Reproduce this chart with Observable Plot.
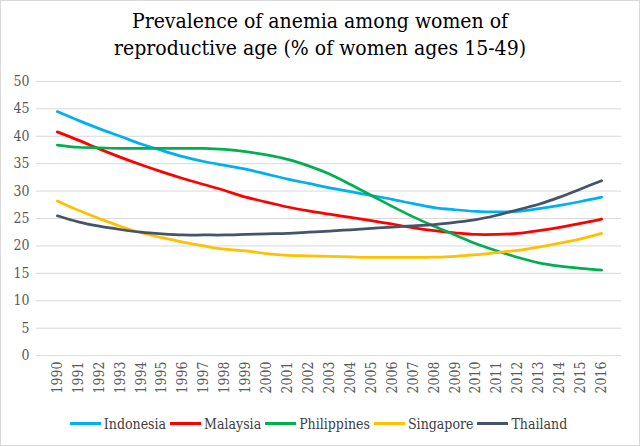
<!DOCTYPE html>
<html>
<head>
<meta charset="utf-8">
<script src="https://cdn.jsdelivr.net/npm/d3@7"></script>
<script src="https://cdn.jsdelivr.net/npm/@observablehq/plot@0.6"></script>
<style>
  html, body { margin: 0; padding: 0; background: #fff; }
  #chart {
    width: 638px; height: 444px; border: 1px solid #d9d9d9; position: relative; overflow: hidden;
    font-family: "DejaVu Serif Condensed", "DejaVu Serif", serif;
  }
  #title {
    height: 65px; text-align: center; font-size: 21px; line-height: 27px; color: #000;
    padding-top: 7px; box-sizing: border-box; font-stretch: condensed;
  }
  #legend {
    display: flex; justify-content: center; align-items: center; gap: 4px;
    font-size: 14px; color: #404040; margin-top: 11px; margin-left: -3px;
  }
  .item { display: flex; align-items: center; gap: 3px; }
  .sw { width: 31px; height: 3px; display: inline-block; }
</style>
</head>
<body>
<div id="chart">
  <div id="title">Prevalence of anemia among women of<br>reproductive age (% of women ages 15-49)</div>
  <div id="plot"></div>
  <div id="legend"></div>
</div>
<script>
const years = ["1990","1991","1992","1993","1994","1995","1996","1997","1998","1999","2000","2001","2002","2003","2004","2005","2006","2007","2008","2009","2010","2011","2012","2013","2014","2015","2016"];
const countries = ["Indonesia", "Malaysia", "Philippines", "Singapore", "Thailand"];
const colors = ["#00b0f0", "#ff0000", "#00b050", "#ffc000", "#44546a"];
const yTicks = [0, 5, 10, 15, 20, 25, 30, 35, 40, 45, 50];

const indonesia   = [44.5, 42.9, 41.4, 40.0, 38.6, 37.4, 36.3, 35.4, 34.7, 34.0, 33.1, 32.2, 31.4, 30.6, 29.9, 29.2, 28.5, 27.7, 27.0, 26.6, 26.3, 26.2, 26.3, 26.8, 27.4, 28.1, 28.9];
const malaysia    = [40.8, 39.3, 37.7, 36.2, 34.8, 33.5, 32.3, 31.2, 30.1, 28.9, 28.0, 27.1, 26.4, 25.8, 25.2, 24.6, 24.0, 23.3, 22.8, 22.4, 22.1, 22.1, 22.3, 22.8, 23.4, 24.1, 24.9];
const philippines = [38.4, 38.0, 37.9, 37.8, 37.8, 37.8, 37.8, 37.8, 37.6, 37.2, 36.6, 35.8, 34.6, 33.1, 31.2, 29.2, 27.2, 25.3, 23.6, 22.0, 20.4, 19.1, 17.9, 16.9, 16.3, 15.9, 15.6];
const singapore   = [28.2, 26.5, 25.0, 23.6, 22.4, 21.5, 20.7, 20.0, 19.4, 19.1, 18.6, 18.3, 18.2, 18.1, 18.0, 17.9, 17.9, 17.9, 17.95, 18.1, 18.4, 18.8, 19.2, 19.8, 20.5, 21.3, 22.3];
const thailand    = [25.5, 24.4, 23.6, 23.0, 22.5, 22.2, 22.0, 22.0, 22.0, 22.1, 22.2, 22.3, 22.5, 22.7, 22.95, 23.2, 23.45, 23.65, 23.9, 24.3, 24.8, 25.6, 26.6, 27.6, 28.9, 30.4, 31.9];

const seriesValues = [indonesia, malaysia, philippines, singapore, thailand];
const rows = [];
countries.forEach((c, ci) => {
  years.forEach((yr, i) => rows.push({country: c, year: yr, value: seriesValues[ci][i]}));
});

const plot = Plot.plot({
  width: 640,
  height: 340,
  marginLeft: 35,
  marginRight: 18,
  marginTop: 15,
  marginBottom: 50,
  style: {fontFamily: '"DejaVu Serif Condensed", "DejaVu Serif", serif', fontSize: "14px", color: "#595959", background: "transparent"},
  x: {type: "point", domain: years, padding: 0.5, label: null},
  y: {domain: [0, 50], label: null},
  color: {domain: countries, range: colors},
  marks: [
    Plot.ruleY(yTicks, {stroke: "#d9d9d9", strokeWidth: 1}),
    Plot.axisY(yTicks, {tickSize: 0, tickPadding: 7, label: null, fontSize: 14}),
    Plot.axisX({tickSize: 0, tickPadding: 6, tickRotate: -90, label: null, fontSize: 14}),
    Plot.line(rows, {x: "year", y: "value", z: "country", stroke: "country", strokeWidth: 2.75, curve: "catmull-rom"})
  ]
});
document.getElementById("plot").appendChild(plot);

const legend = document.getElementById("legend");
countries.forEach((c, i) => {
  const item = document.createElement("div");
  item.className = "item";
  const sw = document.createElement("span");
  sw.className = "sw";
  sw.style.background = colors[i];
  const t = document.createElement("span");
  t.textContent = c;
  item.appendChild(sw);
  item.appendChild(t);
  legend.appendChild(item);
});
</script>
</body>
</html>
